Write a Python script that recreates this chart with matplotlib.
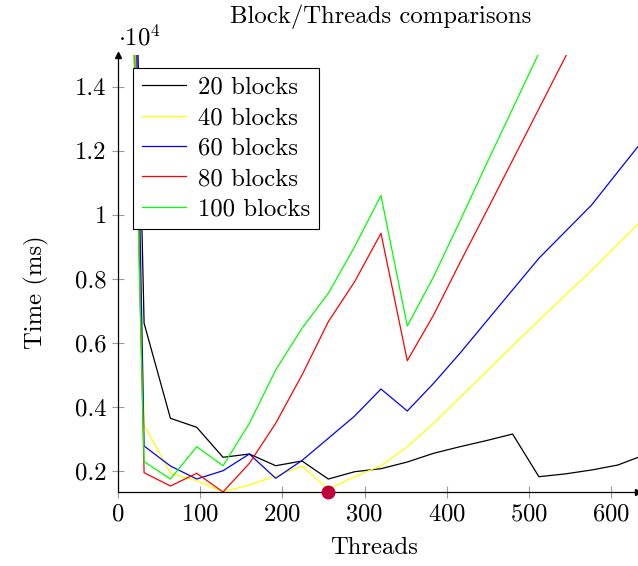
import numpy as np
import matplotlib
matplotlib.use("Agg")
import matplotlib.pyplot as plt
from matplotlib.ticker import FuncFormatter

plt.rcParams['font.family'] = 'cmr10'
plt.rcParams['mathtext.fontset'] = 'cm'
plt.rcParams['axes.formatter.use_mathtext'] = True

threads = [16, 32, 64, 96, 128, 160, 192, 224, 256, 288, 320, 352, 384,
           416, 448, 480, 512, 544, 576, 608, 640]

# time in ms
b20 = [24750, 6606, 3638, 3356, 2419, 2522, 2156, 2303, 1740, 1969, 2063,
       2272, 2544, 2750, 2940, 3146, 1813, 1900, 2022, 2178, 2490]
b40 = [21400, 3428, 1919, 1690, 1344, 1553, 1834, 2140, 1419, 1813, 2156,
       2750, 3481, 4290, 5090, 5900, 6700, 7480, 8260, 9076, 9900]
b60 = [24750, 2772, 2147, 1741, 2000, 2522, 1763, 2320, 3013, 3709, 4553,
       3866, 4731, 5669, 6660, 7650, 8638, 9470, 10300, 11340, 12370]
b80 = [20110, 1938, 1522, 1919, 1335, 2231, 3481, 4991, 6656, 7906, 9419,
       5438, 6866, 8500, 10090, 11700, 13310, 14920, 16530, 18140, 19750]
b100 = [18826, 2281, 1741, 2750, 2156, 3481, 5147, 6450, 7544, 9000, 10600,
        6522, 8063, 9800, 11570, 13310, 15050, 16790, 18530, 20270, 22010]

series = [b20, b40, b60, b80, b100]
names = ['20 blocks', '40 blocks', '60 blocks', '80 blocks', '100 blocks']
colors = ['black', '#FFFF00', '#0000FF', '#FF0000', '#00FF00']

best_x = 256
ymin, ymax = 1334, 15000
fs = 17.8

fig = plt.figure(figsize=(6.38, 5.66), dpi=100)
ax = fig.add_axes([0.1846, 0.1307, 0.8154, 0.7727])

for ys, name, c in zip(series, names, colors):
    ax.plot(threads, ys, color=c, lw=0.9, label=name)

ax.plot([best_x], [ymin], 'o', color='#C0003A', ms=9, clip_on=False, zorder=5)

ax.set_xlim(0, 632.5)
ax.set_ylim(ymin, ymax)

ax.spines['top'].set_visible(False)
ax.spines['right'].set_visible(False)
ax.spines['left'].set_linewidth(0.9)
ax.spines['bottom'].set_linewidth(0.9)
# axis arrows
ax.plot(1, 0, '>', color='black', ms=4, transform=ax.transAxes, clip_on=False)
ax.plot(0, 1, '^', color='black', ms=4, transform=ax.transAxes, clip_on=False)

ax.set_xticks([0, 100, 200, 300, 400, 500, 600])
ax.set_yticks([2000, 4000, 6000, 8000, 10000, 12000, 14000])
ax.yaxis.set_major_formatter(FuncFormatter(lambda v, p: '%g' % (v / 1e4)))
ax.tick_params(direction='inout', length=8, width=0.8, color='#999999',
               labelsize=fs, pad=4)

ax.set_xlabel('Threads', fontsize=fs, va='center')
ax.xaxis.set_label_coords(0.492, -0.128)
ax.set_ylabel('Time (ms)', fontsize=fs, va='center')
ax.yaxis.set_label_coords(-0.157, 0.457)
fig.text(381 / 638, 1 - 17 / 566, 'Block/Threads comparisons', fontsize=fs,
         ha='center', va='center')
fig.text(118 / 638, 1 - 38 / 566, r'$\cdot 10^4$', fontsize=fs,
         ha='left', va='center')

leg = ax.legend(loc='upper left', bbox_to_anchor=(0.029, 0.97), fontsize=fs,
                frameon=True, fancybox=False, framealpha=1, edgecolor='black',
                handlelength=1.8, handletextpad=0.5, labelspacing=0.33,
                borderpad=0.35, borderaxespad=0)
leg.get_frame().set_linewidth(0.8)

fig.savefig('out.png', dpi=100)
